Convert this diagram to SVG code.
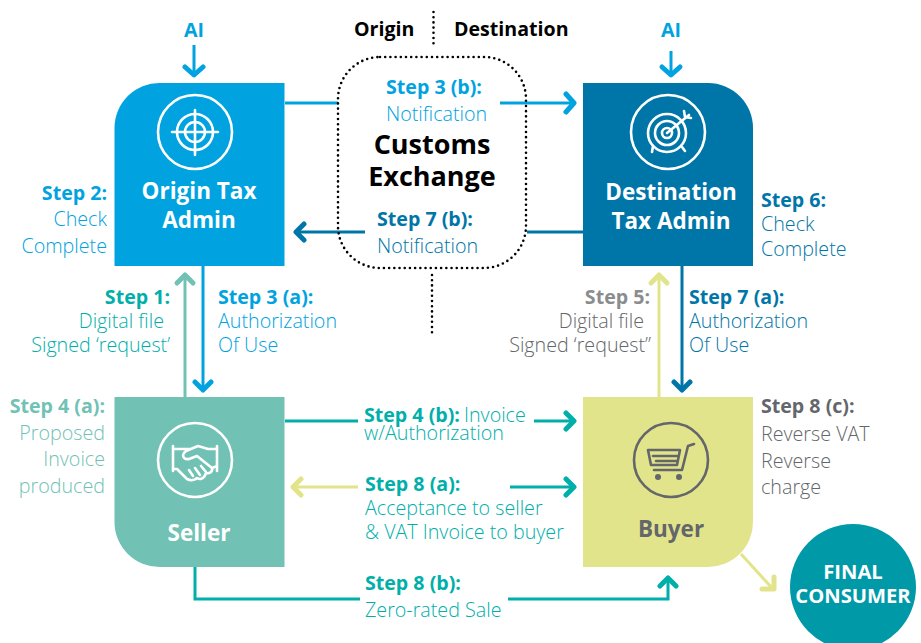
<svg xmlns="http://www.w3.org/2000/svg" width="921" height="643" viewBox="0 0 921 643">
<style>
text{font-family:"Open Sans","Noto Sans","Liberation Sans",sans-serif}
.b{font-weight:700;font-size:19.600px}
.l{font-weight:300;font-size:19.700px}
.t{font-weight:700;font-size:22.500px;text-anchor:middle}
.x{font-size:27px}
.f{font-size:20.200px}
.m{text-anchor:middle}.e{text-anchor:end}
.c{fill:none;stroke-width:3;stroke-linecap:butt;stroke-linejoin:miter}
.h{fill:none;stroke-width:5;stroke-linecap:round;stroke-linejoin:round}
.i{fill:none;stroke:#fff;stroke-width:2.600;stroke-linecap:round;stroke-linejoin:round}
.d{fill:none;stroke:#000;stroke-width:2.600;stroke-linecap:round;stroke-dasharray:0 5.200}
.blue{fill:#00a3e0}.navy{fill:#0076a8}.teal{fill:#00afaa}.mint{fill:#71c2b4}.grey{fill:#63666a}
.sblue{stroke:#00a3e0}.snavy{stroke:#0076a8}.steal{stroke:#00afaa}.smint{stroke:#71c2b4}.syel{stroke:#e2e48b}
</style>
<g id="connectors">
<path class="c sblue" d="M194 45V72M285 103H338M500 103H572M203 266V388"/>
<path class="h sblue" d="M185 67L194 75L203 67M566 94L574 103L566 112M195 382L203 390L211 382"/>
<path class="c sblue" d="M671 51V72"/>
<path class="h sblue" d="M662 67L671 75L680 67"/>
<path class="c snavy" d="M299 232H365M527 232H583M682 266V388"/>
<path class="h snavy" d="M304 224L296 232L304 240M674 382L682 390L690 382"/>
<path class="c smint" d="M185 397V277"/>
<path class="h smint" d="M177 283L185 275L193 283"/>
<path class="c syel" d="M659 397V277"/>
<path class="h syel" d="M651 283L659 275L667 283"/>
<path class="c steal" d="M285 421H358M534 421H572M510 487H572M195 567V599H360M508 599H668V581"/>
<path class="h steal" d="M566 413L574 421L566 429M566 479L574 487L566 495M660 586L668 578L676 586"/>
<path class="c syel" d="M358 487H296M741 554L772 588"/>
<path class="h syel" d="M301 479L293 487L301 495M762 589H774V577"/>
<path class="d" d="M433.500 12V47M432 275V333"/>
</g>
<g id="customs">
<rect x="338" y="57" width="188" height="211" rx="42" class="d"/>
<text class="t x" x="432" y="154">Customs</text>
<text class="t x" x="432" y="186">Exchange</text>
<text class="b m blue" x="434" y="94">Step 3 (b):</text>
<text class="l blue" x="386" y="121">Notification</text>
<text class="b m navy" x="425" y="226">Step 7 (b):</text>
<text class="l navy" x="377" y="253">Notification</text>
</g>
<g id="headers">
<text class="b" x="354" y="36">Origin</text>
<text class="b" x="454" y="36">Destination</text>
<text class="b m blue" x="194" y="37">AI</text>
<text class="b m blue" x="671" y="37">AI</text>
</g>
<g id="origin-tax-admin">
<path class="blue" d="M160 83H284.500V266H114.500V128A45 45 0 0 1 160 83Z"/>
<circle class="i" cx="195" cy="132" r="37"/>
<circle class="i" cx="195" cy="132" r="18"/><circle class="i" cx="195" cy="132" r="10"/>
<path class="i" d="M172 132H218M195 110V155"/>
<text class="t" x="199" y="199" fill="#fff">Origin Tax</text>
<text class="t" x="199" y="228" fill="#fff">Admin</text>
</g>
<g id="destination-tax-admin">
<path class="navy" d="M583 83H708A45 45 0 0 1 753 128V266H583Z"/>
<circle class="i" cx="668" cy="132" r="37"/>
<circle class="i" cx="667" cy="133" r="19"/><circle class="i" cx="667" cy="133" r="12"/><circle class="i" cx="667" cy="133" r="5"/>
<path class="i" d="M667 133L689 115M684 111L685 117L691 118M653 146L652 152M682 147L685 151"/>
<text class="t" x="671" y="200" fill="#fff">Destination</text>
<text class="t" x="671" y="229" fill="#fff">Tax Admin</text>
</g>
<g id="seller">
<path class="mint" d="M114.500 397H284.500V567H160A45 45 0 0 1 114.500 522Z"/>
<circle class="i" cx="195" cy="460" r="37"/>
<path class="i" d="M173 446V471M217 446V471M173 449H191M217 449H208L198 446L186 451C181 455 183 460 189 459L197 456L212 468C213 472 209 474 206 473M173 469H177L187 479C191 481 195 480 197 478C200 480 204 479 206 473M189 470L193 476M195 468L200 475M201 466L206 472M212 468L217 466"/>
<text class="t" x="199" y="541" fill="#fff">Seller</text>
</g>
<g id="buyer">
<path fill="#e2e48b" d="M583 397H753V522A45 45 0 0 1 708 567H583Z"/>
<g fill="none" stroke="#63666a" stroke-width="2.600" stroke-linecap="round" stroke-linejoin="round">
<circle cx="671" cy="460" r="37"/>
<path d="M648 450H680L677 465H651ZM653 456H678M656 461H677M694 444L688 446L682 470H654"/>
</g>
<circle class="grey" cx="658" cy="477" r="3"/><circle class="grey" cx="679" cy="477" r="3"/>
<text class="t grey" x="671" y="537">Buyer</text>
</g>
<g id="final-consumer">
<circle cx="853" cy="587" r="63" fill="#0099a8"/>
<text class="b m f" x="853" y="579" fill="#fff">FINAL</text>
<text class="b m f" x="853" y="603" fill="#fff">CONSUMER</text>
</g>
<g id="labels">
<text class="b e blue" x="107" y="200">Step 2:</text>
<text class="l e blue" x="107" y="226">Check</text>
<text class="l e blue" x="107" y="253">Complete</text>
<text class="b navy" x="761" y="207">Step 6:</text>
<text class="l navy" x="761" y="231">Check</text>
<text class="l navy" x="761" y="256">Complete</text>
<text class="b e teal" x="170" y="304">Step 1:</text>
<text class="l e teal" x="164" y="328">Digital file</text>
<text class="l e teal" x="170" y="352">Signed ‘request’</text>
<text class="b blue" x="218" y="304">Step 3 (a):</text>
<text class="l blue" x="218" y="328">Authorization</text>
<text class="l blue" x="218" y="352">Of Use</text>
<text class="b e" x="650" y="304" fill="#8a8c8e">Step 5:</text>
<text class="l e grey" x="644" y="328">Digital file</text>
<text class="l e grey" x="651" y="352">Signed ‘request”</text>
<text class="b navy" x="689" y="304">Step 7 (a):</text>
<text class="l navy" x="689" y="328">Authorization</text>
<text class="l navy" x="689" y="352">Of Use</text>
<text class="b e mint" x="105" y="413">Step 4 (a):</text>
<text class="l e mint" x="105" y="440">Proposed</text>
<text class="l e mint" x="105" y="466">Invoice</text>
<text class="l e mint" x="105" y="493">produced</text>
<text class="b teal" x="364" y="422">Step 4 (b):</text>
<text class="l teal" x="464" y="422">Invoice</text>
<text class="l teal" x="364" y="440">w/Authorization</text>
<text class="b teal" x="365" y="491">Step 8 (a):</text>
<text class="l teal" x="365" y="515">Acceptance to seller</text>
<text class="l teal" x="365" y="539">&amp; VAT Invoice to buyer</text>
<text class="b teal" x="365" y="590">Step 8 (b):</text>
<text class="l teal" x="365" y="617">Zero-rated Sale</text>
<text class="b grey" x="761" y="413">Step 8 (c):</text>
<text class="l grey" x="761" y="441">Reverse VAT</text>
<text class="l grey" x="761" y="468">Reverse</text>
<text class="l grey" x="761" y="494">charge</text>
</g>
</svg>
